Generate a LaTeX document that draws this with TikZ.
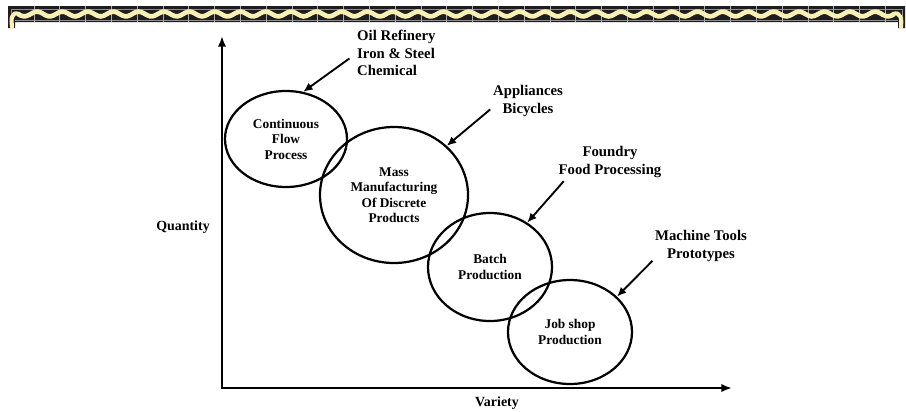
\documentclass[tikz,border=0pt]{standalone}
\usepackage{fontspec}
\setmainfont{Liberation Serif}
\usetikzlibrary{shapes.geometric, arrows.meta}
\definecolor{bandc}{RGB}{30,30,30}
\definecolor{wavec}{RGB}{248,240,180}
\definecolor{tilec}{RGB}{140,140,140}

\begin{document}
\begin{tikzpicture}[x=0.03cm, y=-0.03cm,
  proc/.style={ellipse, draw, line width=1.9pt, inner sep=0pt, align=center,
    font=\fontsize{11.4}{13.2}\selectfont\bfseries},
  caselabel/.style={inner sep=0pt, align=center,
    font=\fontsize{12.6}{14.9}\selectfont\bfseries},
  axislabel/.style={inner sep=0pt, font=\fontsize{11.9}{14}\selectfont\bfseries},
  pointer/.style={line width=1.6pt, -{Latex[length=8pt,width=7pt]}},
  axisline/.style={line width=2.4pt, {Latex[length=9pt,width=7pt]}-{Latex[length=9pt,width=7pt]}}]

\useasboundingbox (0,0) rectangle (906,411);

%% ── decorative page border along the top ─────────────────────────
\fill[bandc] (8,6) -- (905,6) -- (905,28) -- (898,28) -- (898,22)
  -- (15,22) -- (15,28) -- (8,28) -- cycle;
\draw[tilec, line width=0.4pt] (11,28) -- (11,9) -- (902,9) -- (902,28);
\draw[tilec, line width=0.4pt] (15,20) -- (898,20);
\foreach \t in {1,...,34}{
  \draw[tilec!70, line width=0.3pt] ({8+\t*25.8},6) -- ++(0,16);
}
\draw[wavec, line width=4pt] plot[domain=18:894, samples=320, smooth]
  (\x, {14+2.4*sin((\x-18)/25.4*360)});
% curled ends
\draw[wavec, line width=3.5pt, line cap=round] (19,14) .. controls (11,11) and (11,20) .. (12,27);
\draw[wavec, line width=3.5pt, line cap=round] (893,14) .. controls (901,11) and (902,20) .. (901,27);

%% ── process types (ellipses) ─────────────────────────────────────
\node[proc, minimum width=3.66cm, minimum height=2.88cm] (cont) at (286,139)
  {Continuous\\Flow\\Process};
\node[proc, minimum width=4.44cm, minimum height=4.08cm] (mass) at (394,195)
  {Mass\\Manufacturing\\Of Discrete\\Products};
\node[proc, minimum width=3.72cm, minimum height=3.24cm] (batch) at (490,267)
  {Batch\\Production};
\node[proc, minimum width=3.72cm, minimum height=3.12cm] (job) at (570,332)
  {Job shop\\Production};

%% ── example industries ───────────────────────────────────────────
\node[caselabel, anchor=west, align=left] (oil) at (357,53)
  {Oil Refinery\\Iron \& Steel\\Chemical};
\node[caselabel] (appl) at (528,101) {Appliances\\Bicycles};
\node[caselabel] (found) at (610,162) {Foundry\\Food Processing};
\node[caselabel] (mach) at (701,246) {Machine Tools\\Prototypes};

\draw[pointer, shorten <=8pt] (oil.west) -- (cont.70);
\draw[pointer, shorten <=3pt] (appl.190) -- (mass.43);
\draw[pointer, shorten <=4pt] (found.200) -- (batch.50);
\draw[pointer, shorten <=3pt] (mach.195) -- (job.37);

%% ── axes ─────────────────────────────────────────────────────────
\coordinate (origin) at (222,388);
\coordinate (qtop) at (222,36);
\coordinate (vend) at (732,388);
\draw[axisline] (qtop) -- (origin) -- (vend);

\node[axislabel] (qty) at (183,227) {Quantity};
\node[axislabel] (var) at (497,403) {Variety};

\end{tikzpicture}
\end{document}
